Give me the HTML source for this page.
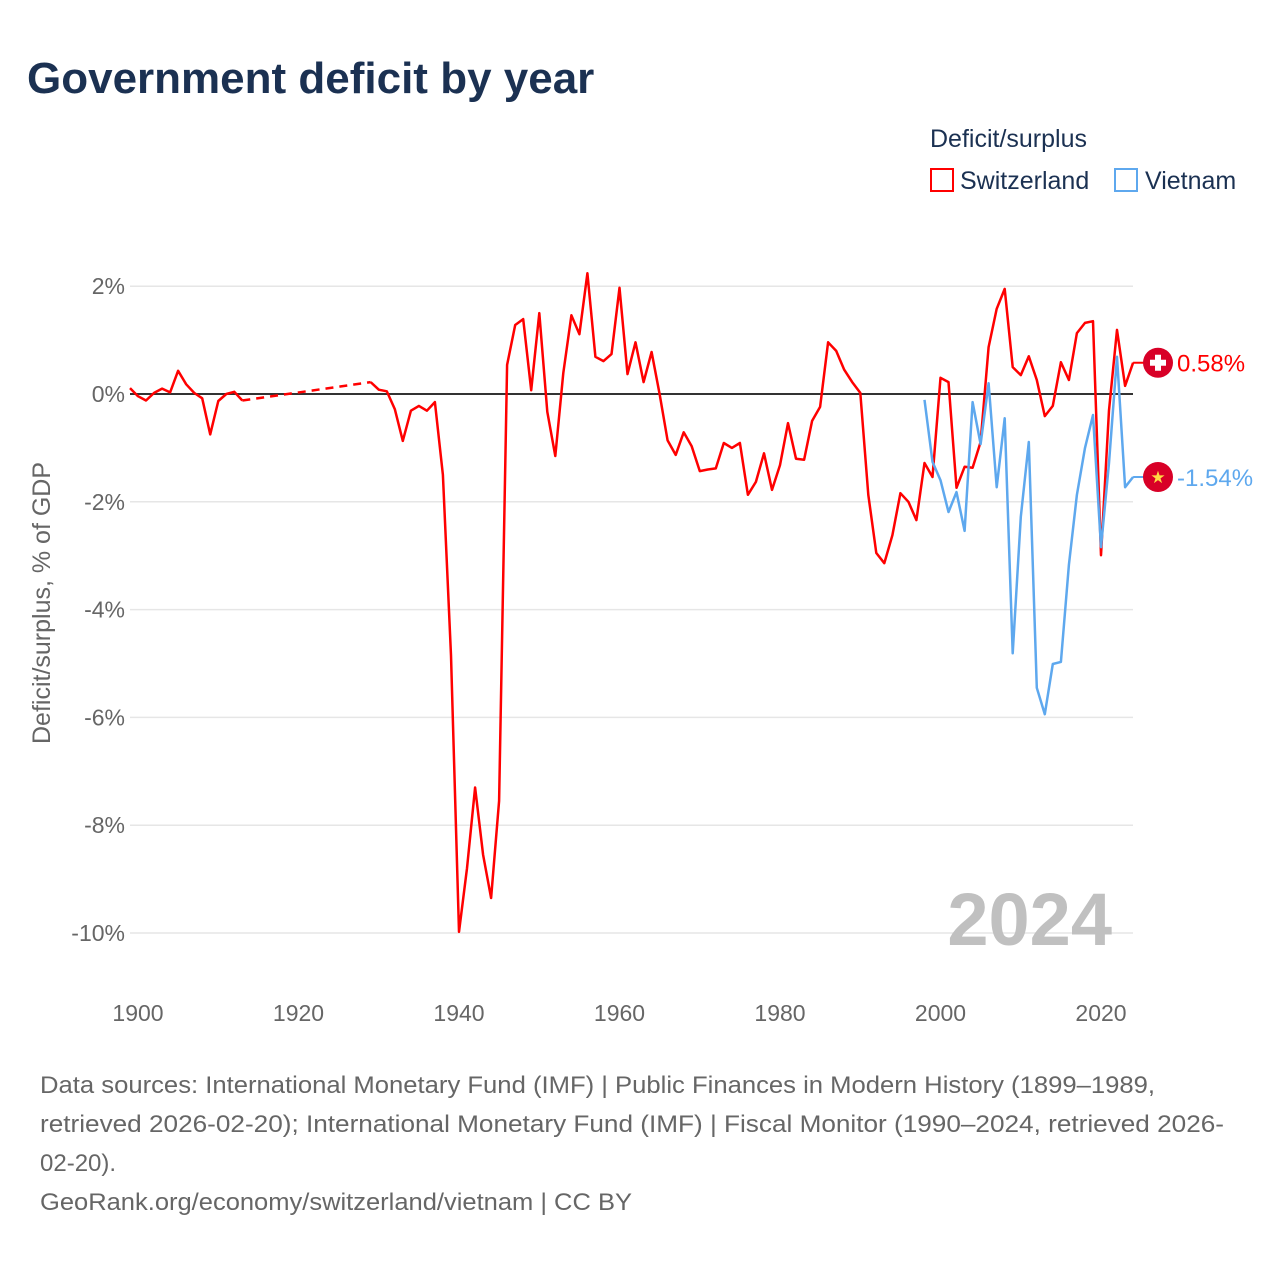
<!DOCTYPE html>
<html><head><meta charset="utf-8"><style>
body{margin:0;background:#fff;font-family:"Liberation Sans",sans-serif;}
#wrap{position:relative;width:1280px;height:1280px;overflow:hidden;}
</style></head><body>
<div id="wrap">
<svg id="chart" width="1280" height="1280" xmlns="http://www.w3.org/2000/svg">
<text x="27" y="93" font-size="44" font-weight="bold" fill="#1b3152" font-family="Liberation Sans, sans-serif">Government deficit by year</text>
<text x="930" y="147" font-size="25" fill="#1b3152">Deficit/surplus</text>
<g><rect x="931" y="169" width="22" height="22" fill="none" stroke="#ff0000" stroke-width="2"/><text x="960" y="189" font-size="25" fill="#1b3152">Switzerland</text></g>
<g><rect x="1115" y="169" width="22" height="22" fill="none" stroke="#5ea8ee" stroke-width="2"/><text x="1145" y="189" font-size="25" fill="#1b3152">Vietnam</text></g>
<g id="grid"></g><g id="xt"></g><g id="series"></g>
<text x="1112" y="945" font-size="74" font-weight="bold" fill="#c0c0c0" text-anchor="end">2024</text>
<text transform="translate(50,603) rotate(-90)" font-size="25" fill="#666" text-anchor="middle">Deficit/surplus, % of GDP</text>
<g font-size="24" fill="#666">
<text x="40" y="1093" textLength="1115" lengthAdjust="spacingAndGlyphs">Data sources: International Monetary Fund (IMF) | Public Finances in Modern History (1899–1989,</text>
<text x="40" y="1132" textLength="1184" lengthAdjust="spacingAndGlyphs">retrieved 2026-02-20); International Monetary Fund (IMF) | Fiscal Monitor (1990–2024, retrieved 2026-</text>
<text x="40" y="1171">02-20).</text>
<text x="40" y="1210" textLength="592" lengthAdjust="spacingAndGlyphs">GeoRank.org/economy/switzerland/vietnam | CC BY</text>
</g>
</svg>
</div>
<script>
const yTicks=[2,0,-2,-4,-6,-8,-10];
const xTicks=[1900,1920,1940,1960,1980,2000,2020];
const chYears=[1899,1900,1901,1902,1903,1904,1905,1906,1907,1908,1909,1910,1911,1912,1913,1929,1930,1931,1932,1933,1934,1935,1936,1937,1938,1939,1940,1941,1942,1943,1944,1945,1946,1947,1948,1949,1950,1951,1952,1953,1954,1955,1956,1957,1958,1959,1960,1961,1962,1963,1964,1965,1966,1967,1968,1969,1970,1971,1972,1973,1974,1975,1976,1977,1978,1979,1980,1981,1982,1983,1984,1985,1986,1987,1988,1989,1990,1991,1992,1993,1994,1995,1996,1997,1998,1999,2000,2001,2002,2003,2004,2005,2006,2007,2008,2009,2010,2011,2012,2013,2014,2015,2016,2017,2018,2019,2020,2021,2022,2023,2024];
const chValues=[0.11,-0.04,-0.12,0.02,0.1,0.03,0.43,0.18,0.02,-0.08,-0.75,-0.13,0.0,0.04,-0.12,0.22,0.08,0.05,-0.28,-0.87,-0.31,-0.22,-0.31,-0.15,-1.5,-4.85,-9.98,-8.8,-7.3,-8.55,-9.35,-7.55,0.54,1.28,1.39,0.07,1.5,-0.33,-1.15,0.39,1.46,1.11,2.24,0.69,0.61,0.74,1.97,0.37,0.96,0.22,0.78,0.0,-0.86,-1.13,-0.71,-0.97,-1.43,-1.4,-1.38,-0.91,-1.0,-0.91,-1.87,-1.63,-1.1,-1.78,-1.32,-0.54,-1.2,-1.22,-0.5,-0.24,0.96,0.8,0.45,0.22,0.02,-1.87,-2.95,-3.14,-2.62,-1.84,-2.0,-2.34,-1.28,-1.54,0.3,0.22,-1.74,-1.35,-1.37,-0.89,0.87,1.58,1.95,0.5,0.35,0.7,0.26,-0.41,-0.22,0.59,0.26,1.13,1.32,1.35,-2.99,-0.3,1.19,0.15,0.58];
const vnYears=[1998,1999,2000,2001,2002,2003,2004,2005,2006,2007,2008,2009,2010,2011,2012,2013,2014,2015,2016,2017,2018,2019,2020,2021,2022,2023,2024];
const vnValues=[-0.11,-1.26,-1.6,-2.19,-1.82,-2.54,-0.15,-0.93,0.2,-1.73,-0.45,-4.81,-2.28,-0.89,-5.45,-5.94,-5.01,-4.97,-3.17,-1.87,-1.0,-0.39,-2.84,-1.28,0.69,-1.73,-1.54];
const NS='http://www.w3.org/2000/svg';
const X=y=>138+(y-1900)*(1101-138)/120;
const Y=v=>394-v*53.9;
function mk(tag,attrs,parent,txt){const e=document.createElementNS(NS,tag);for(const k in attrs)e.setAttribute(k,attrs[k]);if(txt!==undefined)e.textContent=txt;parent.appendChild(e);return e;}
const grid=document.getElementById('grid');
yTicks.forEach(t=>{
 if(t!==0){const l=mk('line',{x1:130,x2:1133,y1:Y(t),y2:Y(t),stroke:'#e6e6e6','stroke-width':1.5},grid);
 
 }
 const tx=mk('text',{x:125,y:Y(t)+8,'font-size':23,fill:'#666','text-anchor':'end'},grid,t+'%');
 
 
});
const xt=document.getElementById('xt');
xTicks.forEach(t=>{const tx=mk('text',{x:X(t),y:1021,'font-size':23,fill:'#666','text-anchor':'middle'},xt,String(t));
 
 });
const zl=mk('line',{x1:130,x2:1133,y1:Y(0),y2:Y(0),stroke:'#333','stroke-width':2},grid);


const S=document.getElementById('series');
function drawSeries(years,vals,color,name){
 let segs=[[]];
 for(let i=0;i<years.length;i++){
  if(i>0&&years[i]-years[i-1]>1){
   const d=mk('line',{x1:X(years[i-1]),y1:Y(vals[i-1]),x2:X(years[i]),y2:Y(vals[i]),stroke:color,'stroke-width':2.5,'stroke-dasharray':'8,6'},S);
   
   
   segs.push([]);
  }
  segs[segs.length-1].push(X(years[i]).toFixed(1)+','+Y(vals[i]).toFixed(1));
 }
 segs.forEach(s=>{const p=mk('polyline',{points:s.join(' '),fill:'none',stroke:color,'stroke-width':2.5,'stroke-linejoin':'round'},S);
  
  });
}
drawSeries(chYears,chValues,'#ff0000','switzerland');
drawSeries(vnYears,vnValues,'#5ea8ee','vietnam');
function endLabel(years,vals,color,name,flag){
 const lx=X(years[years.length-1]),ly=Y(vals[vals.length-1]);
 const g=mk('g',{},S);
 
 
 mk('line',{x1:lx,y1:ly,x2:1144,y2:ly,stroke:color,'stroke-width':2},g);
 const cy=ly;
 mk('circle',{cx:1158,cy:cy,r:15,fill:'#d80027'},g);
 if(flag==='ch'){mk('rect',{x:1150,y:cy-3,width:16,height:6,fill:'#fff'},g);mk('rect',{x:1155,y:cy-8,width:6,height:16,fill:'#fff'},g);}
 else{mk('text',{x:1158,y:cy+6,'font-size':17,fill:'#ffda44','text-anchor':'middle'},g,'★');}
 mk('text',{x:1177,y:cy+9,'font-size':24,fill:color},g,(vals[vals.length-1]).toFixed(2)+'%');
}
endLabel(chYears,chValues,'#ff0000','switzerland','ch');
endLabel(vnYears,vnValues,'#5ea8ee','vietnam','vn');
</script>
</body></html>
